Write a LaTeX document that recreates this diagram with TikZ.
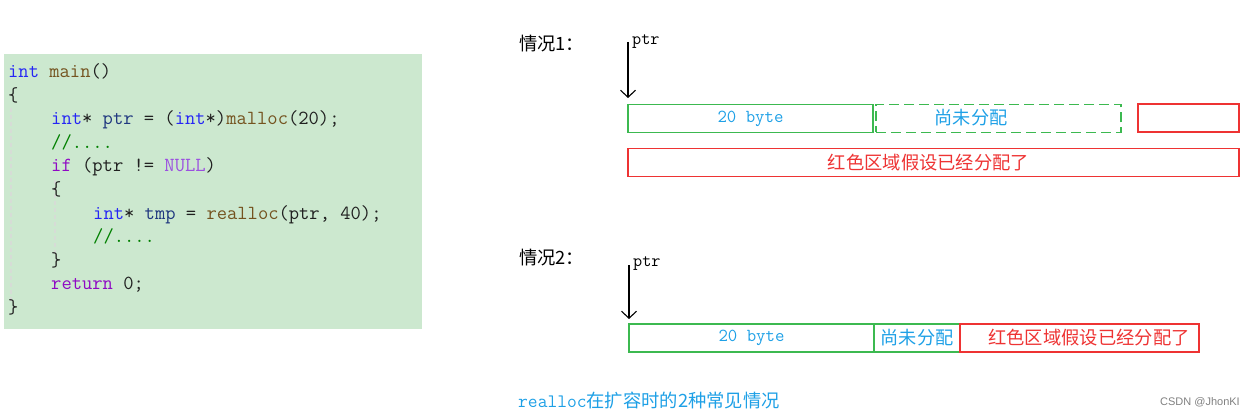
\documentclass[tikz,border=0pt]{standalone}
\usepackage{fontspec}
\setmainfont{Liberation Serif}
\newfontfamily\cjk{Noto Sans CJK SC}
\newfontfamily\wm{Liberation Sans}
\usetikzlibrary{arrows.meta}
\definecolor{codebg}{HTML}{CCE8CF}
\definecolor{kw}{HTML}{2525F5}
\definecolor{vr}{HTML}{1F377F}
\definecolor{fn}{HTML}{74531F}
\definecolor{cm}{HTML}{008000}
\definecolor{pk}{HTML}{8F08C4}
\definecolor{nl}{HTML}{9B4FE0}
\definecolor{pl}{HTML}{202020}
\definecolor{gr}{HTML}{3CB950}
\definecolor{rd}{HTML}{EE3333}
\definecolor{lb}{HTML}{1EA0E6}
\definecolor{guide}{HTML}{D6DCD6}
\tikzset{
  codeline/.style={anchor=base west, inner sep=0pt, font=\ttfamily\fontsize{20}{22}\selectfont, text=pl},
  label1/.style={anchor=west, inner sep=0pt, font=\cjk\fontsize{18.3}{20}\selectfont, text=black},
  ptrlbl/.style={anchor=north west, inner sep=0pt, font=\ttfamily\fontsize{17.7}{20}\selectfont, text=black},
  ptrarrow/.style={-{Straight Barb[length=7pt,width=15pt]}, line width=1.1pt, black},
  gbox/.style={draw=gr, line width=1.2pt, inner sep=0pt, minimum height=28pt},
  rbox/.style={draw=rd, line width=1.2pt, inner sep=0pt, minimum height=28pt},
  bytetxt/.style={font=\ttfamily\fontsize{18.3}{20}\selectfont, text=lb},
  cjkblue/.style={font=\cjk\fontsize{18.2}{20}\selectfont, text=lb},
  cjkred/.style={font=\cjk\fontsize{18.3}{20}\selectfont, text=rd},
}
\newcommand{\cKw}[1]{\textcolor{kw}{#1}}
\newcommand{\cVr}[1]{\textcolor{vr}{#1}}
\newcommand{\cFn}[1]{\textcolor{fn}{#1}}
\newcommand{\cCm}[1]{\textcolor{cm}{#1}}
\newcommand{\cPk}[1]{\textcolor{pk}{#1}}
\newcommand{\cNl}[1]{\textcolor{nl}{#1}}
\begin{document}
\begin{tikzpicture}[x=1pt,y=-1pt]
\useasboundingbox (0,0) rectangle (1254,417);
% code panel
\fill[codebg] (4,54) rectangle (422,329);
\draw[guide, line width=1.2pt, dash pattern=on 4pt off 3pt] (11,108) -- (11,302);
\draw[guide, line width=1.2pt, dash pattern=on 4pt off 3pt] (55,180) -- (55,256);
\node[codeline] (l1) at (8,78) {\cKw{int} \cFn{main}()};
\node[codeline] (l2) at (8,101.5) {\{};
\node[codeline] (l3) at (51,125) {\cKw{int}* \cVr{ptr} = (\cKw{int}*)\cFn{malloc}(20);};
\node[codeline] (l4) at (51,148.5) {\cCm{//....}};
\node[codeline] (l5) at (51,172) {\cPk{if} (ptr != \cNl{NULL})};
\node[codeline] (l6) at (51,195.5) {\{};
\node[codeline] (l7) at (93,219) {\cKw{int}* \cVr{tmp} = \cFn{realloc}(ptr, 40);};
\node[codeline] (l8) at (93,242.5) {\cCm{//....}};
\node[codeline] (l9) at (51,266) {\}};
\node[codeline] (l10) at (51,289.5) {\cPk{return} 0;};
\node[codeline] (l11) at (8,313) {\}};
% case 1
\node[label1] (c1) at (519,44) {情况1：};
\coordinate (p1top) at (628,42);
\coordinate (p1bot) at (628,98);
\node[ptrlbl] (p1) at (632,34) {ptr};
\draw[ptrarrow] (p1top) -- (p1bot);
\node[gbox, minimum width=245pt] (b1) at (750.5,118.5) {};
\node[bytetxt] at (b1.center) {20 byte};
\node[draw=gr, line width=1.2pt, dash pattern=on 10pt off 5pt, inner sep=0pt, minimum height=28pt, minimum width=245pt] (u1) at (998.5,118.5) {};
\node[cjkblue] at (971,118) {尚未分配};
\node[rbox, minimum width=101pt] (r1) at (1188.5,118) {};
\node[rbox, minimum width=611pt] (big1) at (933.5,162.5) {};
\node[cjkred] at (928.5,162.5) {红色区域假设已经分配了};
% case 2
\node[label1] (c2) at (519,258) {情况2：};
\coordinate (p2top) at (629,265);
\coordinate (p2bot) at (629,319);
\node[ptrlbl] (p2) at (633,256) {ptr};
\draw[ptrarrow] (p2top) -- (p2bot);
\node[gbox, minimum width=245pt] (b2) at (751.5,338) {};
\node[bytetxt] at (b2.center) {20 byte};
\node[gbox, minimum width=86pt] (u2) at (917,338) {};
\node[cjkblue] at (u2.center) {尚未分配};
\node[rbox, minimum width=239pt] (r2) at (1079.5,338) {};
\node[cjkred] at (1089,338) {红色区域假设已经分配了};
% caption
\node[anchor=west, inner sep=0pt, text=lb] (cap) at (518,401) {{\ttfamily\fontsize{19}{20}\selectfont realloc}{\cjk\fontsize{18.3}{20}\selectfont 在扩容时的2种常见情况}};
\node[anchor=east, inner sep=0pt, text=gray, font=\wm\fontsize{11}{12}\selectfont] (wm) at (1240,402) {CSDN @JhonKI};
\end{tikzpicture}
\end{document}
